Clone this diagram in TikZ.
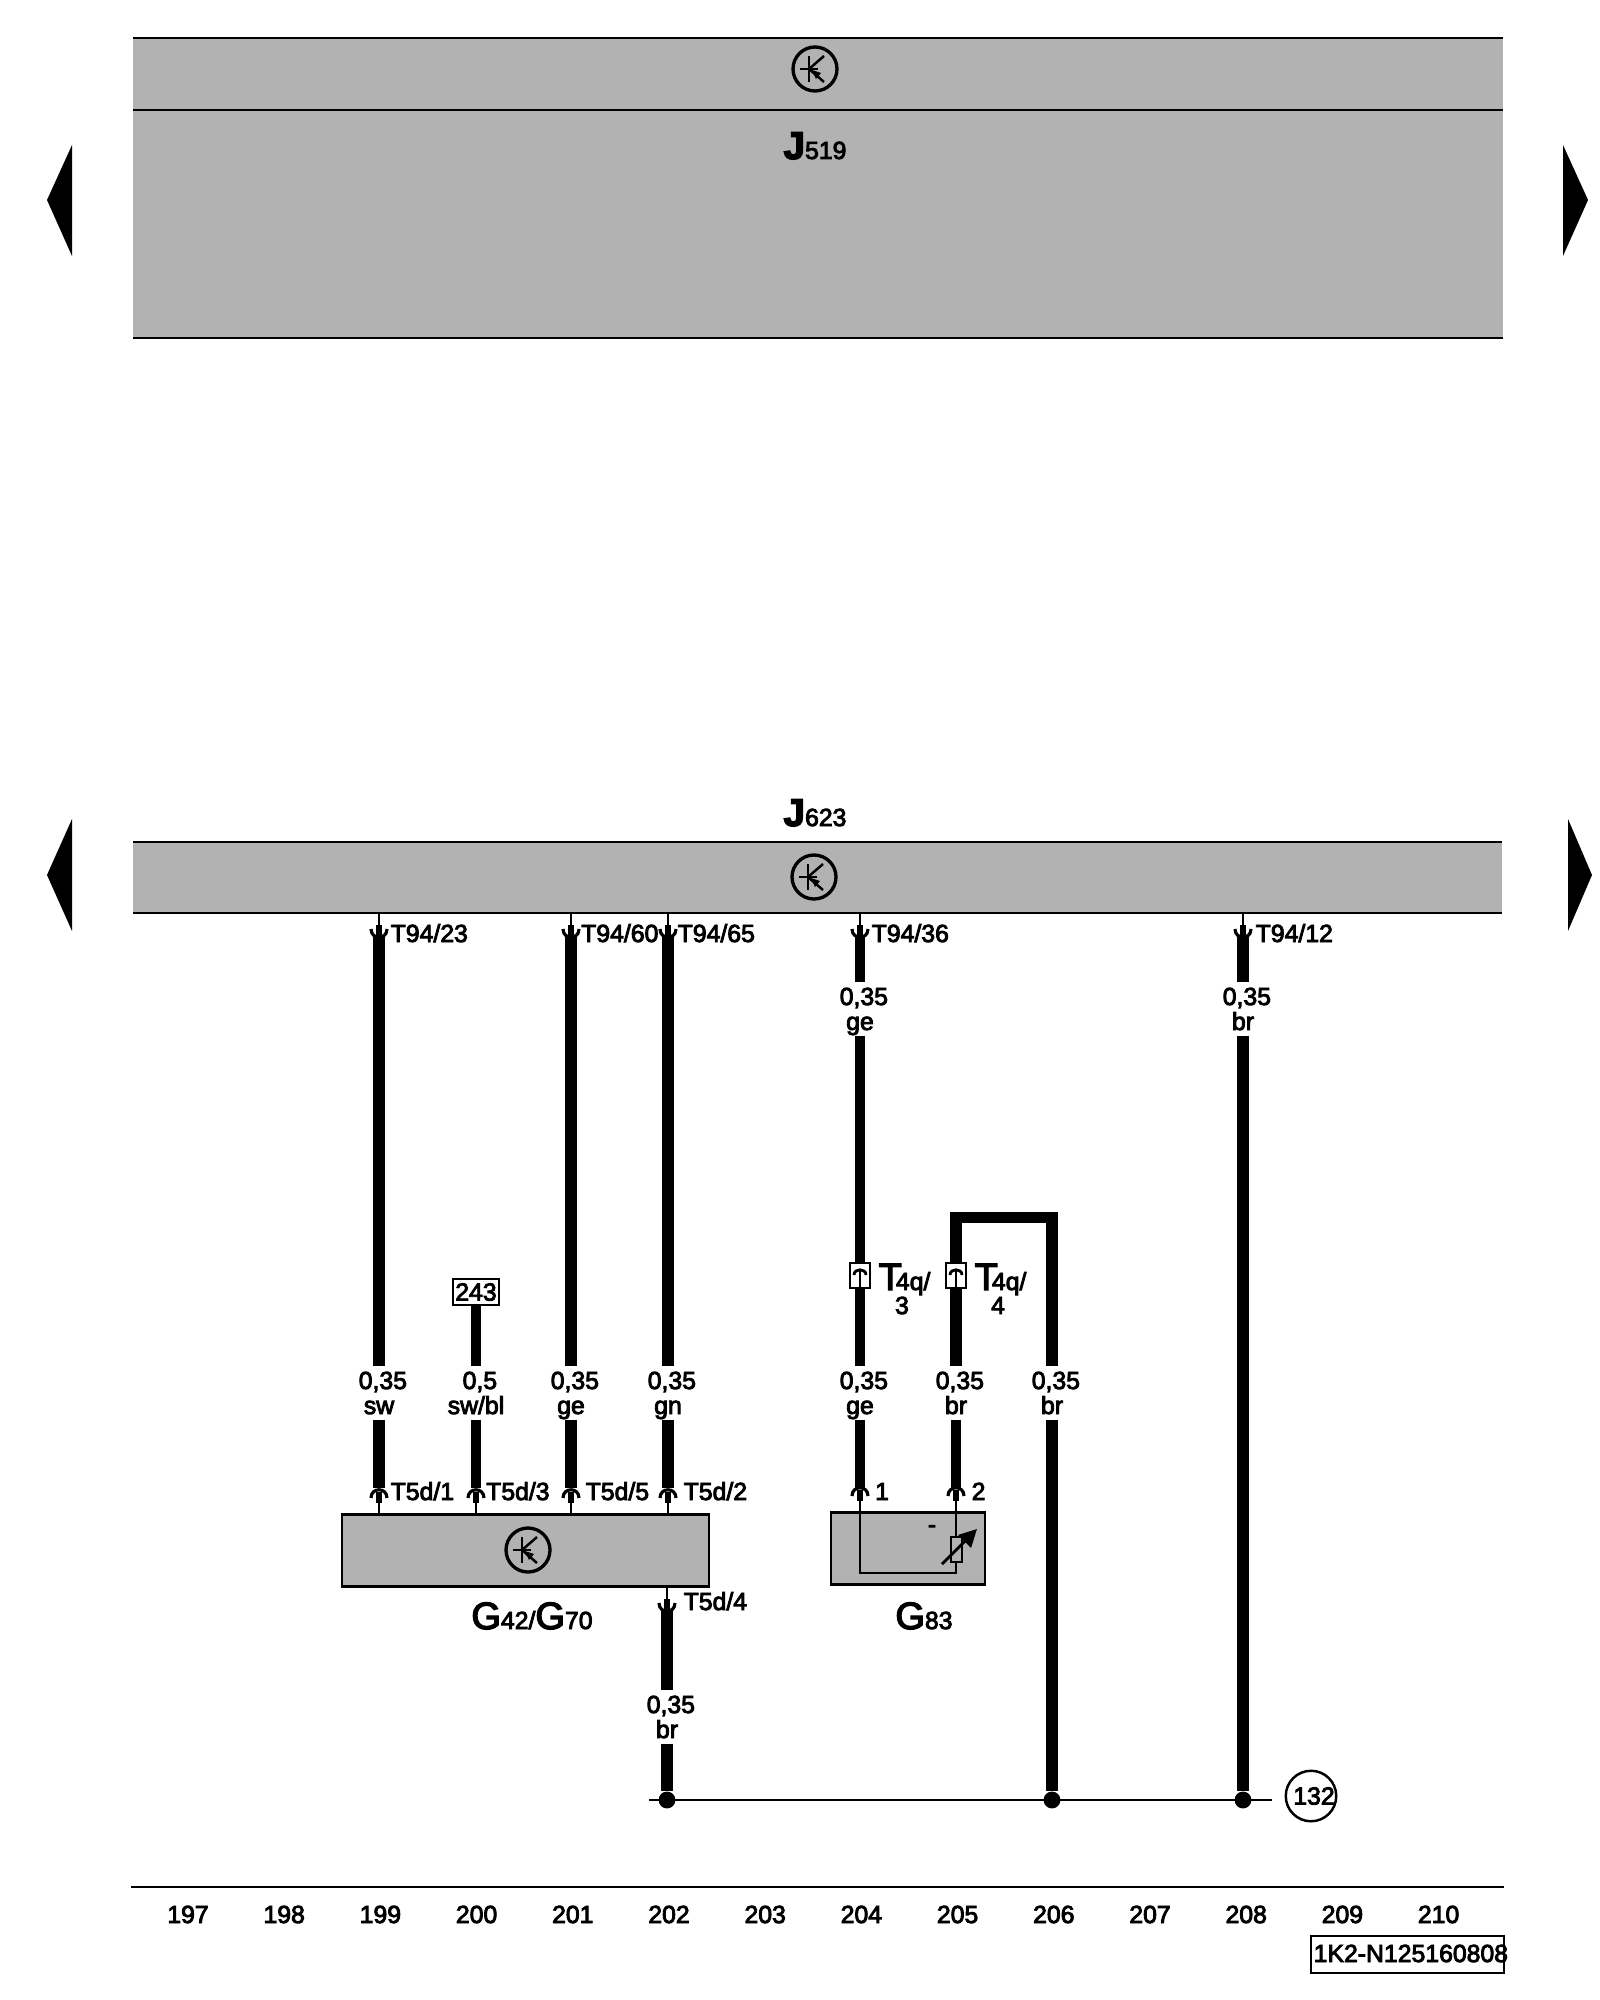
\documentclass[tikz,border=0pt]{standalone}
\usepackage{fontspec}
\setmainfont{Liberation Sans}
\newfontfamily\lblfont{Liberation Sans}[FakeBold=3.5]
\usetikzlibrary{arrows.meta,
                calc,
                positioning}
\definecolor{ecugray}{HTML}{B2B2B2}
\newcommand{\smalltxt}{\lblfont\fontsize{7.05}{7.1}\selectfont}
\newcommand{\bigtxt}{\fontsize{10.8}{11}\selectfont}
\newcommand{\gaugetxt}[2]{\hspace*{2.2pt}\rule{0pt}{6.3pt}#1\\#2\vphantom{g}}
\tikzset{
  wire/.style={line width=3.4pt},
  wirelt/.style={line width=3.05pt},
  thinwire/.style={line width=0.6pt},
  rail/.style={line width=0.8pt},
  ecubox/.style={draw,line width=0.7pt,fill=ecugray},
  txt/.style={font=\smalltxt,inner sep=0pt,anchor=base west},
  ctxt/.style={font=\smalltxt,inner sep=0pt,anchor=base},
  gauge/.style={font=\smalltxt,inner sep=0pt,align=center,minimum height=52*0.2845pt},
  jointdot/.style={circle,fill=black,inner sep=0pt,minimum size=4.8pt},
  plug/.style={draw,line width=0.7pt,fill=white,inner sep=0pt,minimum width=20*0.2845pt,minimum height=25*0.2845pt},
  pindown/.pic={
    \draw[thinwire] (0,0) -- (0,12);
    \draw[line width=1.7pt] (0,12) -- (0,24);
    \draw[line width=0.9pt] (-8,16) .. controls (-8,27) and (8,27) .. (8,16);
  },
  pinup/.pic={
    \draw[thinwire] (0,0) -- (0,-11);
    \draw[line width=1.7pt] (0,-11) -- (0,-22);
    \draw[line width=0.9pt] (-8,-16) .. controls (-8,-27) and (8,-27) .. (8,-16);
  },
  plugpin/.pic={
    \draw[line width=0.7pt] (0,12) -- (0,-5);
    \draw[line width=0.8pt] (-6,-1) .. controls (-6,-8) and (6,-8) .. (6,-1);
  },
  transistor/.pic={
    \draw[line width=0.95pt] (0,0) circle (22);
    \draw[line width=0.7pt] (-15,0) -- (3,0);
    \draw[line width=0.8pt] (-6,-13) -- (-6,13);
    \draw[line width=0.7pt] (-6,0) -- (9,-13);
    \draw[line width=0.7pt] (-6,0) -- (9,13);
    \fill (-3,1) -- (6,4) -- (1,10) -- cycle;
  },
}
\begin{document}
\begin{tikzpicture}[x=0.01cm,y=-0.01cm]
\useasboundingbox (0,0) rectangle (1600,2000);
% upper module
\fill[ecugray] (133,38) rectangle (1503,338);
\draw[rail] (133,38) -- (1503,38);
\draw[rail] (133,110) -- (1503,110);
\draw[rail] (133,338) -- (1503,338);
\pic at (815,69) {transistor};
\node[font=\smalltxt,inner sep=0pt,anchor=base] (J519) at (815,159) {{\bfseries\fontsize{11}{11}\selectfont J}519};
\fill (72,145) -- (47,200) -- (72,256) -- cycle;
\fill (1563,145) -- (1588,200) -- (1563,256) -- cycle;
% lower module
\fill[ecugray] (133,842) rectangle (1502,913);
\draw[rail] (133,842) -- (1502,842);
\draw[rail] (133,913) -- (1502,913);
\pic at (814,877) {transistor};
\node[font=\smalltxt,inner sep=0pt,anchor=base] (J623) at (815,826) {{\bfseries\fontsize{11}{11}\selectfont J}623};
\fill (72,819) -- (47,875) -- (72,931) -- cycle;
\fill (1568,819) -- (1592,875) -- (1568,931) -- cycle;
% sensor boxes
\node[ecubox,minimum width=367*0.2845pt,minimum height=72*0.2845pt,inner sep=0pt] (G42) at (525.5,1550.5) {};
\node[ecubox,minimum width=154*0.2845pt,minimum height=72*0.2845pt,inner sep=0pt] (G83) at (908,1548.5) {};
\pic at (528,1550) {transistor};
% gauge labels
\node[gauge] (g1) at (379,1393) {\gaugetxt{0,35}{sw}};
\node[gauge] (g2) at (476,1393) {\gaugetxt{0,5}{sw/bl}};
\node[gauge] (g3) at (571,1393) {\gaugetxt{0,35}{ge}};
\node[gauge] (g4) at (668,1393) {\gaugetxt{0,35}{gn}};
\node[gauge] (g5) at (860,1393) {\gaugetxt{0,35}{ge}};
\node[gauge] (g6) at (956,1393) {\gaugetxt{0,35}{br}};
\node[gauge] (g7) at (1052,1393) {\gaugetxt{0,35}{br}};
\node[gauge] (g8) at (860,1009) {\gaugetxt{0,35}{ge}};
\node[gauge] (g9) at (1243,1009) {\gaugetxt{0,35}{br}};
\node[gauge] (g10) at (667,1717) {\gaugetxt{0,35}{br}};
% pins
\foreach \x in {379,571,668,860,1243} \pic at (\x,913) {pindown};
\foreach \x in {379,476,571,668} \pic at (\x,1514) {pinup};
\foreach \x in {860,956} \pic at (\x,1512) {pinup};
\pic at (667,1587) {pindown};
\coordinate (t23) at (379,937);
\coordinate (t60) at (571,937);
\coordinate (t65) at (668,937);
\coordinate (t36) at (860,937);
\coordinate (t12) at (1243,937);
\coordinate (d1) at (379,1488);
\coordinate (d3) at (476,1488);
\coordinate (d5) at (571,1488);
\coordinate (d2) at (668,1488);
\coordinate (d4) at (667,1610);
\coordinate (s1) at (860,1488);
\coordinate (s2) at (956,1488);
\coordinate (loopa) at (956,1217.5);
\coordinate (loopb) at (1052,1217.5);
% ground rail
\coordinate (railw) at (649,1800);
\coordinate (raile) at (1272,1800);
\draw[rail] (railw) -- (raile);
\node[jointdot] (j1) at (667,1800) {};
\node[jointdot] (j2) at (1052,1800) {};
\node[jointdot] (j3) at (1243,1800) {};
\node[circle,draw,line width=0.7pt,font=\smalltxt,inner sep=0pt,minimum size=48*0.2845pt] (n132) at (1311,1796) {\hspace*{1.7pt}132};
% wires
\draw[wire] (t23) -- (g1.north);
\draw[wire] (g1.south) -- (d1);
\node[draw,line width=0.7pt,fill=white,font=\smalltxt,inner sep=0pt,minimum width=46*0.2845pt,minimum height=26*0.2845pt] (c243) at (476,1292) {243};
\draw[wirelt] (c243.south) -- (g2.north);
\draw[wirelt] (g2.south) -- (d3);
\draw[wire] (t60) -- (g3.north);
\draw[wire] (g3.south) -- (d5);
\draw[wire] (t65) -- (g4.north);
\draw[wire] (g4.south) -- (d2);
\draw[wire] (d4) -- (g10.north);
\draw[wire] (g10.south) -- (j1);
\draw[wirelt] (t36) -- (g8.north);
\draw[wirelt] (g8.south) -- (g5.north);
\draw[wirelt] (g5.south) -- (s1);
\draw[line width=3.2pt] (g6.north) -- (loopa) -- (loopb) -- (g7.north);
\draw[wirelt] (g6.south) -- (s2);
\draw[wire] (g7.south) -- (j2);
\draw[wire] (t12) -- (g9.north);
\draw[wire] (g9.south) -- (j3);
% plugs
\node[plug] (q3) at (860,1275.5) {};
\node[plug] (q4) at (956,1275.5) {};
\pic at (860,1276) {plugpin};
\pic at (956,1276) {plugpin};
% inside G83
\coordinate (g83a) at (860,1573);
\coordinate (g83b) at (956,1573);
\draw[thinwire] (860,1503) -- (g83a) -- (g83b) -- (956,1503);
\draw[line width=0.6pt,fill=ecugray] (951,1537) rectangle (962,1562);
\draw[line width=0.8pt,-{Triangle[length=5pt,width=5pt]}] (942,1564) -- (977,1529);
\node[font=\smalltxt,inner sep=0pt] (minus) at (932,1529) {-};
% texts
\node[txt] (l2323) at (390,942) {T94/23};
\node[txt] (l2360) at (580.5,942) {T94/60};
\node[txt] (l2365) at (677,942) {T94/65};
\node[txt] (l2336) at (871,942) {T94/36};
\node[txt] (l2312) at (1255,942) {T94/12};
\node[txt] (l51) at (390,1500) {T5d/1};
\node[txt] (l53) at (485.5,1500) {T5d/3};
\node[txt] (l55) at (585,1500) {T5d/5};
\node[txt] (l52) at (683,1500) {T5d/2};
\node[txt] (l54) at (683,1610) {T5d/4};
\node[txt] (l1) at (874.5,1500) {1};
\node[txt] (l2) at (971,1500) {2};
\node[txt] (l4q3) at (878,1290) {{\bigtxt T}\hspace*{-1.7pt}4q/};
\node[ctxt] (l4q3b) at (902,1314) {3};
\node[txt] (l4q4) at (974,1290) {{\bigtxt T}\hspace*{-1.7pt}4q/};
\node[ctxt] (l4q4b) at (998,1314) {4};
\node[font=\smalltxt,inner sep=0pt,anchor=base] (lG42) at (532,1629) {{\bigtxt G}42/{\bigtxt G}70};
\node[font=\smalltxt,inner sep=0pt,anchor=base] (lG83) at (924,1629) {{\bigtxt G}83};
% bottom strip
\draw[rail] (131,1887) -- (1504,1887);
\foreach \n [count=\i from 0] in {197,...,210}
  \node[ctxt] (col\n) at (188+96.2*\i,1923) {\n};
\node[draw,line width=0.7pt,minimum width=193*0.2845pt,minimum height=37*0.2845pt,inner sep=0pt] (docbox) at (1407.5,1954.5) {};
\node[txt] (docid) at (1313,1962) {1K2-N125160808};
\end{tikzpicture}
\end{document}
